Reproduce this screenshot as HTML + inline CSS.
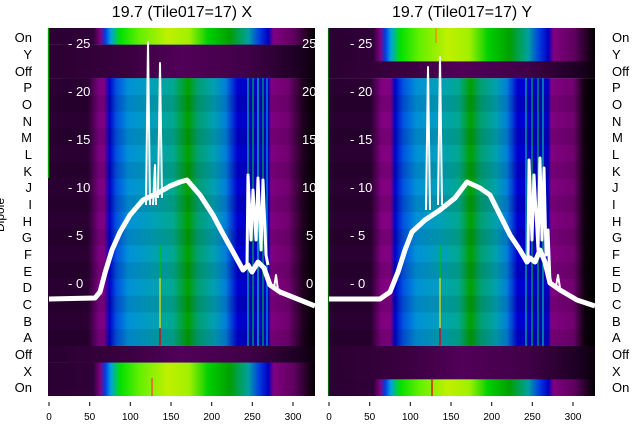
<!DOCTYPE html>
<html><head><meta charset="utf-8"><style>
html,body{margin:0;padding:0;background:#fff;}
svg text{font-family:"Liberation Sans","DejaVu Sans",sans-serif;}
</style></head><body>
<svg width="640" height="440" viewBox="0 0 640 440" xmlns="http://www.w3.org/2000/svg">
<defs>
<linearGradient id="ln" gradientUnits="userSpaceOnUse" x1="0" x2="267" y1="0" y2="0">
<stop offset="0" stop-color="#2a0032"/><stop offset="0.15" stop-color="#2a0032"/>
<stop offset="0.19" stop-color="#7a0080"/><stop offset="0.21" stop-color="#800080"/>
<stop offset="0.23" stop-color="#0000c8"/><stop offset="0.255" stop-color="#0050e0"/>
<stop offset="0.30" stop-color="#0090d8"/><stop offset="0.39" stop-color="#00a0b8"/>
<stop offset="0.47" stop-color="#00a890"/><stop offset="0.525" stop-color="#00a000"/>
<stop offset="0.56" stop-color="#00a070"/><stop offset="0.62" stop-color="#00a0b0"/>
<stop offset="0.665" stop-color="#0080d8"/><stop offset="0.71" stop-color="#0000d0"/>
<stop offset="0.825" stop-color="#0000c0"/><stop offset="0.835" stop-color="#800080"/>
<stop offset="0.9" stop-color="#700070"/><stop offset="0.955" stop-color="#200020"/>
<stop offset="1" stop-color="#000"/>
</linearGradient>
<linearGradient id="rn" gradientUnits="userSpaceOnUse" x1="0" x2="267" y1="0" y2="0">
<stop offset="0" stop-color="#2a0032"/><stop offset="0.16" stop-color="#2a0032"/>
<stop offset="0.2" stop-color="#800080"/><stop offset="0.235" stop-color="#800080"/>
<stop offset="0.25" stop-color="#0000c8"/><stop offset="0.28" stop-color="#0050e0"/>
<stop offset="0.33" stop-color="#0090d8"/><stop offset="0.42" stop-color="#00a0b8"/>
<stop offset="0.49" stop-color="#00a890"/><stop offset="0.535" stop-color="#00a000"/>
<stop offset="0.57" stop-color="#00a070"/><stop offset="0.63" stop-color="#00a0b0"/>
<stop offset="0.67" stop-color="#0080d8"/><stop offset="0.71" stop-color="#0000d0"/>
<stop offset="0.825" stop-color="#0000c0"/><stop offset="0.835" stop-color="#800080"/>
<stop offset="0.92" stop-color="#700070"/><stop offset="0.96" stop-color="#100010"/>
<stop offset="1" stop-color="#000"/>
</linearGradient>
<linearGradient id="lb" gradientUnits="userSpaceOnUse" x1="0" x2="267" y1="0" y2="0">
<stop offset="0" stop-color="#2a0032"/><stop offset="0.17" stop-color="#300038"/>
<stop offset="0.195" stop-color="#800080"/><stop offset="0.215" stop-color="#0040e0"/>
<stop offset="0.235" stop-color="#00a0e0"/><stop offset="0.27" stop-color="#00e000"/>
<stop offset="0.34" stop-color="#60f000"/><stop offset="0.45" stop-color="#c0f000"/>
<stop offset="0.53" stop-color="#a0f000"/><stop offset="0.6" stop-color="#00d000"/>
<stop offset="0.68" stop-color="#00a000"/><stop offset="0.75" stop-color="#00a0a0"/>
<stop offset="0.79" stop-color="#0040e0"/><stop offset="0.825" stop-color="#0000c0"/>
<stop offset="0.845" stop-color="#800080"/><stop offset="0.92" stop-color="#600060"/>
<stop offset="1" stop-color="#000"/>
</linearGradient>
<linearGradient id="dk" gradientUnits="userSpaceOnUse" x1="0" x2="267" y1="0" y2="0">
<stop offset="0" stop-color="#2a0030"/><stop offset="0.3" stop-color="#3a0040"/>
<stop offset="0.5" stop-color="#520058"/><stop offset="0.75" stop-color="#400048"/>
<stop offset="0.95" stop-color="#1a0020"/><stop offset="1" stop-color="#0a000a"/>
</linearGradient>
</defs>

<text x="182" y="17" font-size="16" text-anchor="middle">19.7 (Tile017=17) X</text>
<text x="462" y="17" font-size="16" text-anchor="middle">19.7 (Tile017=17) Y</text>

<!-- LEFT PANEL -->
<g transform="translate(48,28)">
<rect x="0" y="0" width="267" height="16.8" fill="url(#lb)"/>
<rect x="0" y="16.7" width="267" height="33.6" fill="url(#ln)"/>
<rect x="14" y="16.7" width="253" height="33.6" fill="url(#dk)"/>
<rect x="0" y="50.2" width="267" height="268" fill="url(#ln)"/>
<g fill="#000" opacity="0.08">
<rect y="67" width="267" height="16.7"/><rect y="100.4" width="267" height="16.7"/><rect y="133.9" width="267" height="16.7"/><rect y="167.3" width="267" height="16.7"/><rect y="200.8" width="267" height="16.7"/><rect y="234.2" width="267" height="16.7"/><rect y="267.7" width="267" height="16.7"/><rect y="301.1" width="267" height="16.7"/>
</g>
<rect x="0" y="318" width="267" height="16.8" fill="url(#ln)"/>
<rect x="20" y="318" width="247" height="16.8" fill="url(#dk)"/>
<rect x="0" y="334.6" width="267" height="33.4" fill="url(#lb)"/>
<g stroke-width="1.3">
<line x1="200" y1="50" x2="200" y2="318" stroke="#00b0a0"/>
<line x1="205" y1="50" x2="205" y2="318" stroke="#00a060"/>
<line x1="210" y1="50" x2="210" y2="318" stroke="#00c0c0"/>
<line x1="215" y1="50" x2="215" y2="318" stroke="#00a060"/>
<line x1="219" y1="50" x2="219" y2="318" stroke="#0090e0"/>
<line x1="112" y1="217" x2="112" y2="250" stroke="#00c000"/>
<line x1="112" y1="250" x2="112" y2="300" stroke="#e0e000"/>
<line x1="112" y1="300" x2="112" y2="318" stroke="#e00000"/>
<line x1="104" y1="350" x2="104" y2="368" stroke="#ff4040"/>
<line x1="0.5" y1="0" x2="0.5" y2="150" stroke="#00a000"/>
</g>
<g fill="#fff" font-size="13">
<text x="20" y="20">- 25</text><text x="20" y="68">- 20</text><text x="20" y="116">- 15</text><text x="20" y="164">- 10</text><text x="20" y="212">- 5</text><text x="20" y="260">- 0</text>
<text x="254" y="20">25</text><text x="254" y="68">20</text><text x="254" y="116">15</text><text x="254" y="164">10</text><text x="258" y="212">5</text><text x="258" y="260">0</text>
</g>
</g>
<g fill="none" stroke="#fff" stroke-linejoin="round">
<polyline stroke-width="5" points="49,299 95,298 100,292 105,273 112,250 120,232 130,215 143,200 158,193 170,186 180,182 187,180 193,187 200,195 213,215 222,232 232,250 243,270 248,265 252,272 258,262 264,268 270,285 280,292 290,296 300,300 315,306"/>
<polyline stroke-width="2" points="146,205 148,42 150,205"/>
<polyline stroke-width="2" points="158,198 160,63 162,198"/>
<polyline stroke-width="2" points="153,205 155,165 156,205"/>
<polyline stroke-width="3" points="247,265 248,175 251,240 253,190 256,240 258,178 261,250 263,180 266,255 268,265"/>
<polyline stroke-width="2" points="274,288 276,275 278,290"/>
</g>

<!-- RIGHT PANEL -->
<g transform="translate(328,28)">
<rect x="0" y="0" width="267" height="33.6" fill="url(#lb)"/>
<rect x="0" y="33.4" width="267" height="16.9" fill="url(#dk)"/>
<rect x="0" y="50.2" width="267" height="268" fill="url(#rn)"/>
<g fill="#000" opacity="0.08">
<rect y="67" width="267" height="16.7"/><rect y="100.4" width="267" height="16.7"/><rect y="133.9" width="267" height="16.7"/><rect y="167.3" width="267" height="16.7"/><rect y="200.8" width="267" height="16.7"/><rect y="234.2" width="267" height="16.7"/><rect y="267.7" width="267" height="16.7"/><rect y="301.1" width="267" height="16.7"/>
</g>
<rect x="0" y="318" width="267" height="33.5" fill="url(#dk)"/>
<rect x="0" y="351.3" width="267" height="16.7" fill="url(#lb)"/>
<g stroke-width="1.3">
<line x1="198" y1="50" x2="198" y2="318" stroke="#00b0a0"/>
<line x1="204" y1="50" x2="204" y2="318" stroke="#00a060"/>
<line x1="210" y1="50" x2="210" y2="318" stroke="#00a060"/>
<line x1="215" y1="50" x2="215" y2="318" stroke="#00b0a0"/>
<line x1="112" y1="217" x2="112" y2="250" stroke="#00c000"/>
<line x1="112" y1="250" x2="112" y2="300" stroke="#e0e000"/>
<line x1="112" y1="300" x2="112" y2="318" stroke="#e00000"/>
<line x1="104" y1="351" x2="104" y2="368" stroke="#e00000"/>
<line x1="108" y1="0" x2="108" y2="15" stroke="#ff8000"/>
<line x1="0.5" y1="0" x2="0.5" y2="368" stroke="#00a000" opacity="0.6"/>
</g>
<g fill="#fff" font-size="13">
<text x="22" y="20">- 25</text><text x="22" y="68">- 20</text><text x="22" y="116">- 15</text><text x="22" y="164">- 10</text><text x="22" y="212">- 5</text><text x="22" y="260">- 0</text>
</g>
</g>
<g fill="none" stroke="#fff" stroke-linejoin="round">
<polyline stroke-width="5" points="329,299 380,299 390,292 398,272 405,250 412,232 425,220 440,210 455,198 467,182 480,188 490,195 500,215 510,235 520,250 527,262 530,258 535,262 540,250 545,262 550,283 560,290 577,300 595,306"/>
<polyline stroke-width="2" points="426,210 428,67 430,210"/>
<polyline stroke-width="2" points="438,205 440,57 442,205"/>
<polyline stroke-width="3" points="528,262 529,160 532,240 534,175 538,250 540,158 542,240 544,168 546,255 548,230 550,283"/>
<polyline stroke-width="2" points="556,286 558,275 560,288"/>
</g>

<!-- row labels -->
<g font-size="13" fill="#000">
<g text-anchor="end">
<text x="32" y="42">On</text><text x="32" y="59">Y</text><text x="32" y="76">Off</text><text x="32" y="92">P</text><text x="32" y="109">O</text><text x="32" y="126">N</text><text x="32" y="142">M</text><text x="32" y="159">L</text><text x="32" y="176">K</text><text x="32" y="192">J</text><text x="32" y="209">I</text><text x="32" y="226">H</text><text x="32" y="242">G</text><text x="32" y="259">F</text><text x="32" y="276">E</text><text x="32" y="292">D</text><text x="32" y="309">C</text><text x="32" y="326">B</text><text x="32" y="342">A</text><text x="32" y="359">Off</text><text x="32" y="376">X</text><text x="32" y="392">On</text>
</g>
<g>
<text x="612" y="42">On</text><text x="612" y="59">Y</text><text x="612" y="76">Off</text><text x="612" y="92">P</text><text x="612" y="109">O</text><text x="612" y="126">N</text><text x="612" y="142">M</text><text x="612" y="159">L</text><text x="612" y="176">K</text><text x="612" y="192">J</text><text x="612" y="209">I</text><text x="612" y="226">H</text><text x="612" y="242">G</text><text x="612" y="259">F</text><text x="612" y="276">E</text><text x="612" y="292">D</text><text x="612" y="309">C</text><text x="612" y="326">B</text><text x="612" y="342">A</text><text x="612" y="359">Off</text><text x="612" y="376">X</text><text x="612" y="392">On</text>
</g>
<text transform="translate(4,215) rotate(-90)" text-anchor="middle" font-size="12">Dipole</text>
</g>

<!-- x ticks -->
<g stroke="#000" stroke-width="1">
<line x1="49" y1="402" x2="49" y2="406"/><line x1="89.7" y1="402" x2="89.7" y2="406"/><line x1="130.3" y1="402" x2="130.3" y2="406"/><line x1="171" y1="402" x2="171" y2="406"/><line x1="211.7" y1="402" x2="211.7" y2="406"/><line x1="252.3" y1="402" x2="252.3" y2="406"/><line x1="293" y1="402" x2="293" y2="406"/>
<line x1="329" y1="402" x2="329" y2="406"/><line x1="369.7" y1="402" x2="369.7" y2="406"/><line x1="410.3" y1="402" x2="410.3" y2="406"/><line x1="451" y1="402" x2="451" y2="406"/><line x1="491.7" y1="402" x2="491.7" y2="406"/><line x1="532.3" y1="402" x2="532.3" y2="406"/><line x1="573" y1="402" x2="573" y2="406"/>
</g>
<g font-size="10" text-anchor="middle" fill="#000">
<text x="49" y="420">0</text><text x="89.7" y="420">50</text><text x="130.3" y="420">100</text><text x="171" y="420">150</text><text x="211.7" y="420">200</text><text x="252.3" y="420">250</text><text x="293" y="420">300</text>
<text x="329" y="420">0</text><text x="369.7" y="420">50</text><text x="410.3" y="420">100</text><text x="451" y="420">150</text><text x="491.7" y="420">200</text><text x="532.3" y="420">250</text><text x="573" y="420">300</text>
</g>
</svg>
</body></html>
